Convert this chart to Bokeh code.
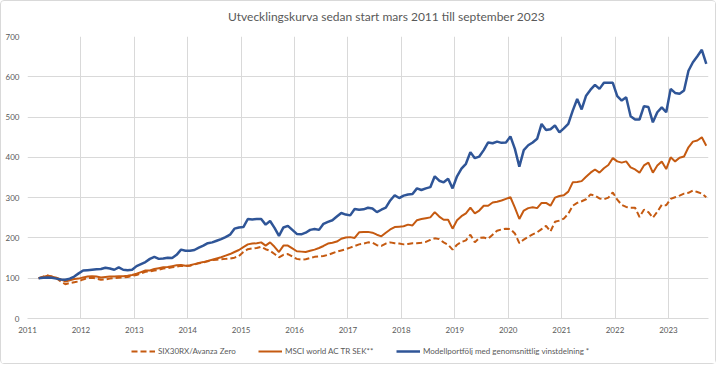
from bokeh.plotting import figure
from bokeh.layouts import column
from bokeh.models import FixedTicker, Legend, LegendItem, Label
from bokeh.embed import file_html
from bokeh.resources import INLINE

# ---------------- data (monthly index values, start = 100) ----------------
start_year = 2011
start_month = 3  # March 2011 ... September 2023

title_text = "Utvecklingskurva sedan start mars 2011 till september 2023"
series_names = [
    "SIX30RX/Avanza Zero",
    "MSCI world AC TR SEK**",
    "Modellportfölj med genomsnittlig vinstdelning *",
]

six30rx = [
    100, 104, 107, 104, 100, 92, 85, 88, 90, 92,
    97, 100, 101, 99, 96, 97, 99, 100, 101, 102, 103, 106,
    108, 112, 116, 117, 119, 121, 124, 125, 127, 129, 131, 130,
    131, 134, 137, 139, 142, 145, 146, 147, 148, 149, 151, 155,
    165, 172, 174, 175, 178, 172, 168, 160, 152, 158, 160, 154,
    148, 146, 147, 150, 153, 154, 155, 158, 162, 166, 169, 172,
    176, 180, 184, 186, 189, 188, 182, 180, 186, 189, 187, 186,
    184, 185, 187, 187, 188, 190, 195, 199, 197, 189, 183, 171,
    183, 190, 194, 208, 189, 200, 201, 198, 208, 218, 221, 223,
    222, 211, 187, 196, 203, 209, 214, 222, 230, 216, 240, 243,
    248, 260, 280, 287, 291, 296, 308, 305, 298, 296, 300, 313,
    295, 282, 277, 275, 275, 252, 270, 264, 250, 265, 282, 281,
    297, 301, 305, 310, 312, 318, 314, 310, 301,
]

msci = [
    100, 103, 106, 104, 101, 97, 92, 95, 98, 99,
    102, 104, 105, 104, 102, 103, 104, 104, 105, 105, 106, 108,
    111, 115, 119, 119, 123, 125, 127, 128, 130, 132, 133, 131,
    132, 135, 138, 140, 143, 146, 149, 152, 156, 160, 165, 170,
    177, 184, 186, 187, 189, 181, 189, 178, 165, 181, 181, 174,
    167, 166, 165, 168, 171, 175, 180, 186, 188, 191, 198, 201,
    202, 200, 214, 215, 215, 213, 208, 204, 213, 221, 227, 228,
    229, 233, 231, 244, 247, 249, 251, 264, 253, 245, 245, 223,
    244, 254, 261, 275, 261, 268, 280, 280, 288, 290, 293, 297,
    301, 275, 247, 268, 274, 276, 274, 287, 287, 280, 300, 304,
    306, 315, 338, 339, 341, 352, 362, 370, 362, 373, 381, 398,
    390, 387, 390, 375, 370, 362, 380, 387, 362, 380, 390, 371,
    400, 390, 399, 402, 425, 439, 442, 450, 429,
]

modell = [
    100, 101, 102, 101, 99, 97, 96, 99, 104, 112,
    119, 120, 121, 122, 123, 126, 124, 121, 127, 121, 120, 121,
    130, 135, 140, 148, 153, 148, 149, 151, 150, 158, 171, 168,
    168, 170, 176, 181, 187, 189, 193, 197, 202, 208, 223, 226,
    227, 247, 246, 247, 247, 233, 242, 225, 205, 226, 230, 220,
    210, 209, 213, 220, 222, 220, 235, 240, 244, 253, 262, 258,
    256, 272, 270, 271, 275, 273, 264, 270, 275, 293, 306, 299,
    305, 308, 309, 323, 319, 323, 326, 353, 342, 338, 347, 323,
    353, 372, 384, 413, 398, 402, 418, 437, 435, 439, 436, 437,
    452, 421, 377, 418, 430, 437, 446, 483, 468, 470, 479, 462,
    472, 483, 516, 545, 519, 553, 568, 580, 570, 585, 585, 585,
    552, 541, 549, 502, 494, 494, 527, 525, 487, 512, 524, 512,
    570, 560, 558, 566, 615, 636, 651, 667, 632,
]

year_ticks = list(range(2011, 2024))
value_ticks = list(range(0, 701, 100))

# decimal-year position of each monthly observation (mid-month)
x = [start_year + (start_month - 1 + k + 0.5) / 12 for k in range(len(modell))]

ORANGE = "#C55A11"
BLUE = "#2F5597"
GRID = "#D9D9D9"
TEXT = "#595959"
FONT = "Lato"
W = 714

styles = [
    dict(line_color=ORANGE, line_width=2, line_dash="6 3"),
    dict(line_color=ORANGE, line_width=2),
    dict(line_color=BLUE, line_width=2.5),
]
all_series = [six30rx, msci, modell]

# ---------------- title strip ----------------
t_fig = figure(
    width=W, height=27, x_range=(0, 1), y_range=(0, 1),
    x_axis_type=None, y_axis_type=None,
    output_backend="svg", toolbar_location=None, min_border=0,
)
t_fig.outline_line_color = None
t_fig.add_layout(Label(
    x=359, y=12, x_units="screen", y_units="screen",
    text=title_text, text_align="center", text_baseline="middle",
    text_font=FONT, text_font_size="12px", text_color=TEXT,
))

# ---------------- main chart ----------------
p = figure(
    width=W, height=310,
    x_range=(2011, 2023.75), y_range=(0, 700),
    output_backend="svg", toolbar_location=None,
    min_border_left=26, min_border_right=7,
    min_border_top=8, min_border_bottom=20,
)
p.outline_line_color = None

p.xaxis.ticker = FixedTicker(ticks=year_ticks)
p.yaxis.ticker = FixedTicker(ticks=value_ticks)
p.xgrid.ticker = FixedTicker(ticks=year_ticks)
p.ygrid.ticker = FixedTicker(ticks=value_ticks)
p.xgrid.grid_line_color = GRID
p.ygrid.grid_line_color = GRID

for ax in (p.xaxis[0], p.yaxis[0]):
    ax.major_tick_line_color = None
    ax.minor_tick_line_color = None
    ax.major_tick_out = 0
    ax.major_tick_in = 0
    ax.major_label_text_font = FONT
    ax.major_label_text_font_size = "8px"
    ax.major_label_text_color = TEXT
    ax.major_label_standoff = 8
p.xaxis.axis_line_color = GRID
p.yaxis.axis_line_color = None

for vals, st in zip(all_series, styles):
    p.line(x, vals, **st)

# ---------------- legend strip below the chart ----------------
lg_fig = figure(
    width=W, height=25,
    x_range=(0, 1), y_range=(0, 1),
    x_axis_type=None, y_axis_type=None,
    output_backend="svg", toolbar_location=None,
    min_border=0,
)
lg_fig.outline_line_color = None

legend_x = [104, 231, 369]
for name, vals, st, lx in zip(series_names, all_series, styles, legend_x):
    proxy = lg_fig.line(x, vals, **st)  # lies outside this strip's range
    lg = Legend(
        items=[LegendItem(label=name, renderers=[proxy])],
        location=(lx, 7),
        orientation="horizontal",
        padding=0, margin=0, spacing=0,
        glyph_width=24, glyph_height=10, label_height=10,
        label_standoff=3,
        label_text_font=FONT, label_text_font_size="8px",
        label_text_color=TEXT,
        background_fill_alpha=0, border_line_color=None,
    )
    lg_fig.add_layout(lg)

layout = column(t_fig, p, lg_fig, spacing=0,
                styles={"border": "1px solid #D9D9D9", "border-radius": "4px"})
open("out.html", "w").write(file_html(layout, INLINE))
